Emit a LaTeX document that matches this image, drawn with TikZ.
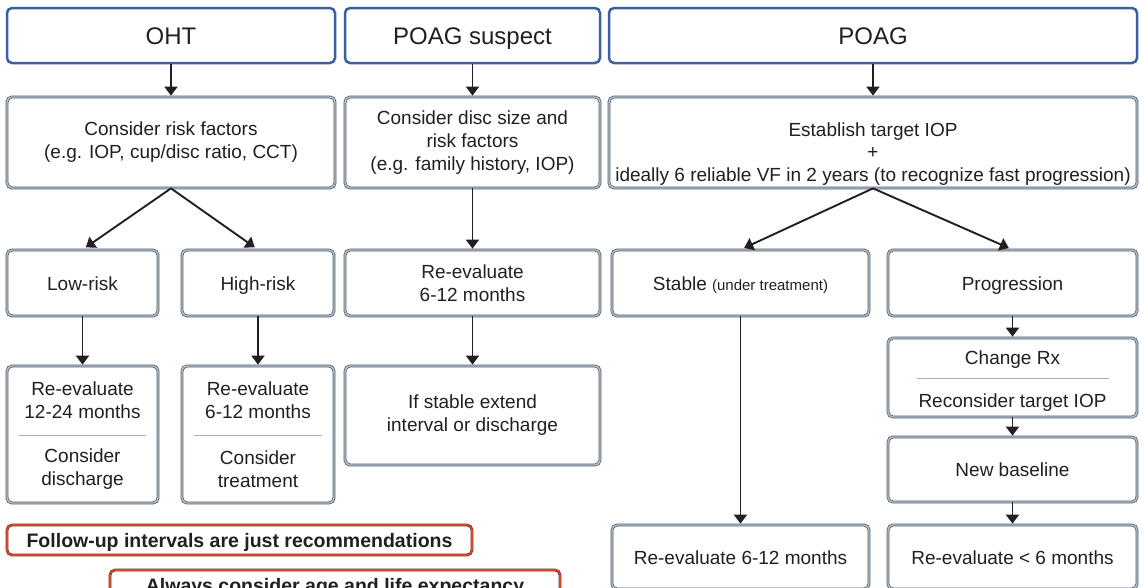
\documentclass[tikz,border=0pt]{standalone}
\usepackage{fontspec}
\setmainfont{Liberation Sans}
\usetikzlibrary{arrows.meta}
\definecolor{txt}{HTML}{231F20}
\definecolor{blueb}{HTML}{3C5FA0}
\definecolor{gdark}{HTML}{4D5864}
\definecolor{glight}{HTML}{B4C4D2}
\definecolor{rb}{HTML}{D4472B}
\definecolor{rdark}{HTML}{6B2A1E}
\definecolor{divc}{HTML}{9FB4C8}
\begin{document}
\begin{tikzpicture}[x=1pt,y=-1pt,
 every node/.style={text=txt, inner sep=0pt, align=center},
 bigf/.style={font=\fontsize{24}{28}\selectfont},
 bodyf/.style={font=\fontsize{19}{23}\selectfont},
 boldf/.style={font=\bfseries\fontsize{19.5}{23}\selectfont},
 oneline/.style={text height=14pt, text depth=0pt},
 topbox/.style={draw=blueb, line width=2.5pt, rounded corners=5pt, fill=white, bigf, text height=17pt, text depth=0pt},
 gbox/.style={draw=gdark, double=glight, double distance=1.4pt, line width=0.75pt, rounded corners=5pt, fill=white, bodyf},
 rbox/.style={draw=rdark, double=rb, double distance=1.6pt, line width=0.55pt, rounded corners=5pt, fill=white, boldf},
 arr/.style={-{Triangle[width=13pt,length=9pt]}, line width=1.9pt, draw=txt, shorten >=1pt},
 divl/.style={draw=divc, line width=1pt},
]
\useasboundingbox (0,0) rectangle (1142,587);
\fill[white] (0,0) rectangle (1142,587);
\clip (0,0) rectangle (1142,587);

% row 1
\node[topbox, minimum width=328pt, minimum height=55pt] (oht) at (171,35.5) {OHT};
\node[topbox, minimum width=255pt, minimum height=55pt] (sus) at (472.5,35.5) {POAG suspect};
\node[topbox, minimum width=528pt, minimum height=55pt] (poag) at (873,35.5) {POAG};

% row 2
\node[gbox, minimum width=328pt, minimum height=91pt] (c1) at (171,142.5) {Consider risk factors\\(e.g. IOP, cup/disc ratio, CCT)};
\node[gbox, minimum width=255pt, minimum height=91pt] (c2) at (472.5,142.5) {Consider disc size and\\risk factors\\(e.g. family history, IOP)};
\node[gbox, minimum width=528pt, minimum height=91pt] (c3) at (873,142.5) {};
\node[font=\fontsize{19}{22.5}\selectfont] (c3t) at (873,154) {Establish target IOP\\+\\ideally 6 reliable VF in 2 years (to recognize fast progression)};

% row 3
\node[gbox, oneline, minimum width=151pt, minimum height=66pt] (low) at (82.5,283) {Low-risk};
\node[gbox, oneline, minimum width=152pt, minimum height=66pt] (high) at (258,283) {High-risk};
\node[gbox, minimum width=255pt, minimum height=66pt] (reev) at (472.5,283) {Re-evaluate\\6-12 months};
\node[gbox, oneline, minimum width=257pt, minimum height=66pt] (stable) at (740.5,283) {Stable {\fontsize{15}{18}\selectfont(under treatment)}};
\node[gbox, oneline, minimum width=249pt, minimum height=66pt] (prog) at (1012.5,283) {Progression};

% row 4 left
\node[gbox, minimum width=151pt, minimum height=137pt] (r1) at (82.5,434.5) {};
\node[bodyf] (r1a) at (82.5,400.5) {Re-evaluate\\12-24 months};
\node[bodyf] (r1b) at (82.5,469) {Consider\\discharge};
\draw[divl] (19,435) -- (146,435);
\node[gbox, minimum width=152pt, minimum height=137pt] (r2) at (258,434.5) {};
\node[bodyf] (r2a) at (258,400.5) {Re-evaluate\\6-12 months};
\node[bodyf] (r2b) at (258,469) {Consider\\treatment};
\draw[divl] (194,435) -- (322,435);
\node[gbox, minimum width=255pt, minimum height=99pt] (ifs) at (472.5,415.5) {If stable extend\\interval or discharge};

% right column
\node[gbox, minimum width=249pt, minimum height=79pt] (chg) at (1012.5,377.5) {};
\node[bodyf, oneline] (chga) at (1012.5,357) {Change Rx};
\node[bodyf, oneline] (chgb) at (1012.5,400) {Reconsider target IOP};
\draw[divl] (917,378) -- (1109,378);
\node[gbox, oneline, minimum width=249pt, minimum height=65pt] (nb) at (1012.5,469.5) {New baseline};
\node[gbox, oneline, minimum width=249pt, minimum height=64pt] (r6) at (1012.5,557) {Re-evaluate < 6 months};
\node[gbox, oneline, minimum width=257pt, minimum height=64pt] (s12) at (740.5,557) {Re-evaluate 6-12 months};

% notes
\node[rbox, oneline, minimum width=465pt, minimum height=30pt] (fu) at (239.5,540) {Follow-up intervals are just recommendations};
\node[rbox, oneline, minimum width=450pt, minimum height=30pt] (al) at (335,585) {Always consider age and life expectancy};

% arrows
\draw[arr] (oht) -- (c1);
\draw[arr] (sus) -- (c2);
\draw[arr] (poag) -- (c3);
\draw[arr, shorten >=4pt] (c1.south) -- (low.north);
\draw[arr, shorten >=4pt] (c1.south) -- (high.north);
\draw[arr] (c2) -- (reev);
\draw[arr] (reev) -- (ifs);
\draw[arr, shorten >=4pt] (c3.south) -- (stable.north);
\draw[arr, shorten >=4pt] (c3.south) -- (prog.north);
\draw[arr] (low) -- (r1);
\draw[arr] (high) -- (r2);
\draw[arr] (stable) -- (s12);
\draw[arr] (prog) -- (chg);
\draw[arr] (chg) -- (nb);
\draw[arr] (nb) -- (r6);
\end{tikzpicture}
\end{document}
